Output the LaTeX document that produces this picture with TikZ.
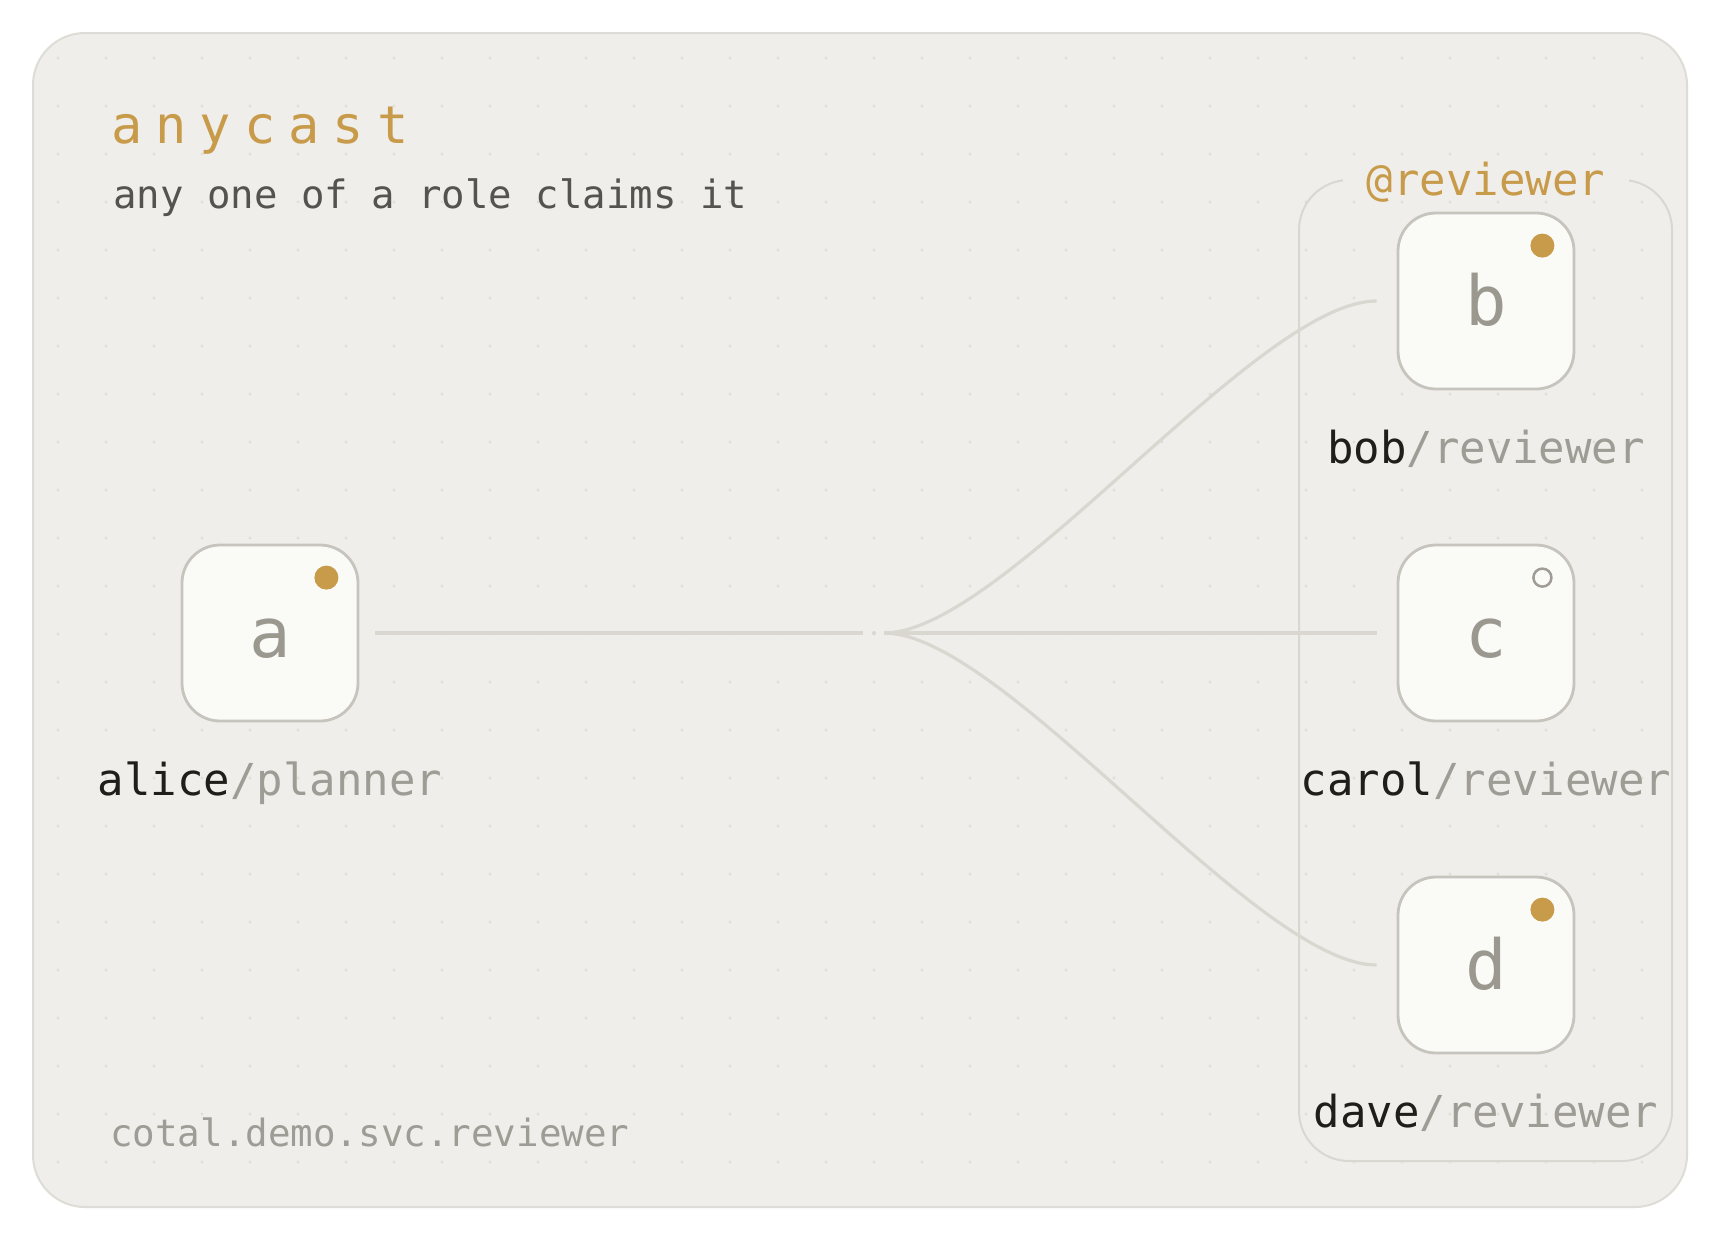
\documentclass[tikz,border=0pt]{standalone}
\usepackage{fontspec}
\setmainfont{DejaVu Sans Mono}
\newfontfamily\spacedmono[LetterSpace=25]{DejaVu Sans Mono}
\usetikzlibrary{positioning}
\definecolor{cardbg}{HTML}{EFEEEA}
\definecolor{cardline}{HTML}{DEDCD6}
\definecolor{griddot}{HTML}{E0DED8}
\definecolor{gold}{HTML}{C89B4B}
\definecolor{ink}{HTML}{1F1E1B}
\definecolor{subink}{HTML}{55534E}
\definecolor{mute}{HTML}{9E9C94}
\definecolor{boxfill}{HTML}{FAFAF7}
\definecolor{boxline}{HTML}{C6C4BC}
\definecolor{glyph}{HTML}{9B998F}
\definecolor{wirecol}{HTML}{D9D7D0}
\definecolor{grpline}{HTML}{D9D7D1}
\tikzset{agent/.style={draw=boxline,line width=2.8pt,fill=boxfill,rounded corners=38pt,
    minimum size=176pt,inner sep=0pt,text=glyph,text height=48pt,text depth=0pt,
    font=\fontsize{69}{69}\selectfont}
}
\tikzset{wire/.style={draw=wirecol,line width=3.2pt}}
\tikzset{tag/.style={anchor=base,inner sep=0pt,text=mute,font=\fontsize{44}{50}\selectfont}}
\tikzset{busy/.style={fill=gold}}
\tikzset{idle/.style={draw=mute,line width=2.5pt}}

\begin{document}
\begin{tikzpicture}[x=1pt,y=-1pt]
                \fill[white] (0,0) rectangle (1720,1240);
                \useasboundingbox (0,0) rectangle (1720,1240);
                \draw[draw=cardline,fill=cardbg,line width=2pt,rounded corners=52pt] (33,33) rectangle (1687,1207);
                
                % Dot grid
                \foreach \x in {58,106,...,1642}
                    \foreach \y in {58,106,...,1162}
                        \fill[griddot] (\x,\y) circle (1.7);
                
                % Heading
                \node[anchor=base west,inner sep=0pt,text=gold,font=\spacedmono\fontsize{52}{60}\selectfont] (title) at (111,143) {anycast};
                \node[anchor=base west,inner sep=0pt,text=subink,font=\fontsize{39}{46}\selectfont] (sub) at (113,208) {any one of a role claims it};
                \node[anchor=base west,inner sep=0pt,text=mute,font=\fontsize{37.5}{44}\selectfont] (subject) at (110,1146) {cotal.demo.svc.reviewer};
                
                % Role group
                \draw[draw=grpline,line width=2pt,rounded corners=50pt] (1299,180) rectangle (1672,1161);
                \node[anchor=base,fill=cardbg,inner xsep=24pt,inner ysep=0pt,text height=30pt,text depth=0pt,
                    text=gold,font=\fontsize{44}{50}\selectfont] (role) at (1486,195) {@reviewer};
                
                % Agents
                \node[agent] (a) at (270,633) {a};
                \node[agent] (b) at (1486,301) {b};
                \node[agent] (c) at (1486,633) {c};
                \node[agent] (d) at (1486,965) {d};
                
                \fill[busy] ([xshift=-33pt,yshift=-34pt]a.north east) circle (12);
                \fill[busy] ([xshift=-33pt,yshift=-34pt]b.north east) circle (12);
                \draw[idle] ([xshift=-33pt,yshift=-34pt]c.north east) circle (9);
                \fill[busy] ([xshift=-33pt,yshift=-34pt]d.north east) circle (12);
                
                % Labels
                \node[tag] (la) at ([yshift=-162pt]a.center) {\textcolor{ink}{alice}/planner};
                \node[tag] (lb) at ([yshift=-162pt]b.center) {\textcolor{ink}{bob}/reviewer};
                \node[tag] (lc) at ([yshift=-162pt]c.center) {\textcolor{ink}{carol}/reviewer};
                \node[tag] (ld) at ([yshift=-162pt]d.center) {\textcolor{ink}{dave}/reviewer};
                
                % Wires
                \coordinate (stub) at (863,633);
                \coordinate (tick) at (874,633);
                \coordinate (fork) at (884,633);
                \draw[wire,shorten <=16pt] (a) -- (stub);
                \fill[wirecol] (tick) circle (2);
                \draw[wire,shorten >=20pt] (fork) .. controls +(120,0) and +(-140,0) .. (b.west);
                \draw[wire,shorten >=20pt] (fork) -- (c.west);
                \draw[wire,shorten >=20pt] (fork) .. controls +(120,0) and +(-140,0) .. (d.west);
\end{tikzpicture}
\end{document}
